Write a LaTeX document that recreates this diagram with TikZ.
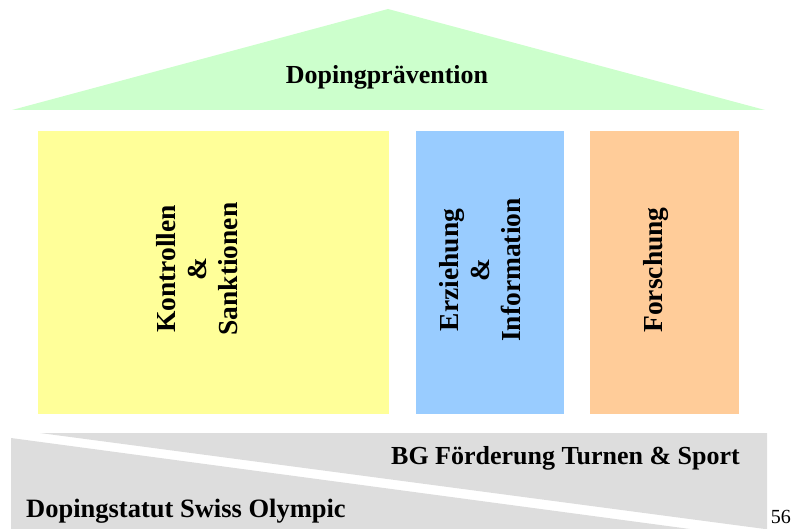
\documentclass[tikz,border=0pt]{standalone}
\usepackage{fontspec}
\setmainfont{Liberation Serif}
\definecolor{roofgreen}{HTML}{CCFFCC}
\definecolor{pyellow}{HTML}{FFFF99}
\definecolor{pblue}{HTML}{99CCFF}
\definecolor{porange}{HTML}{FFCC99}
\definecolor{basegray}{HTML}{DDDDDD}
\begin{document}
\begin{tikzpicture}[x=1pt,y=-1pt,
  pillar/.style={draw=none,inner sep=0pt,anchor=north west},
  bigtext/.style={font=\fontsize{26}{30}\selectfont\bfseries,inner sep=0pt},
  vtext/.style={font=\fontsize{27.5}{31}\selectfont\bfseries,inner sep=0pt,rotate=90,align=center}]
\useasboundingbox (0,0) rectangle (791,529);
% roof
\fill[roofgreen] (12,110) -- (388,9) -- (765,110) -- cycle;
\node[bigtext,anchor=base] (roof) at (387,84) {Dopingprävention};
% pillars
\node[pillar,fill=pyellow,minimum width=351pt,minimum height=283pt] (p1) at (38,131) {};
\node[pillar,fill=pblue,minimum width=148pt,minimum height=283pt] (p2) at (416,131) {};
\node[pillar,fill=porange,minimum width=149pt,minimum height=283pt] (p3) at (590,131) {};
\node[vtext] (t1) at (197,269) {Kontrollen\\\&\\Sanktionen};
\node[vtext] (t2) at (480,270) {Erziehung\\\&\\Information};
\node[vtext] (t3) at (656,270) {Forschung};
% base
\fill[basegray] (40,433) -- (767,433) -- (767,529) -- (765,529) -- cycle;
\fill[basegray] (11,438) -- (690,529) -- (11,529) -- cycle;
\node[bigtext,anchor=base east] (bg) at (740,464) {BG Förderung Turnen \& Sport};
\node[font=\fontsize{26.5}{30}\selectfont\bfseries,inner sep=0pt,anchor=base west] (ds) at (26,517) {Dopingstatut Swiss Olympic};
\node[font=\fontsize{20}{24}\selectfont,inner sep=0pt,anchor=base east] (pg) at (791,523) {56};
\end{tikzpicture}
\end{document}
